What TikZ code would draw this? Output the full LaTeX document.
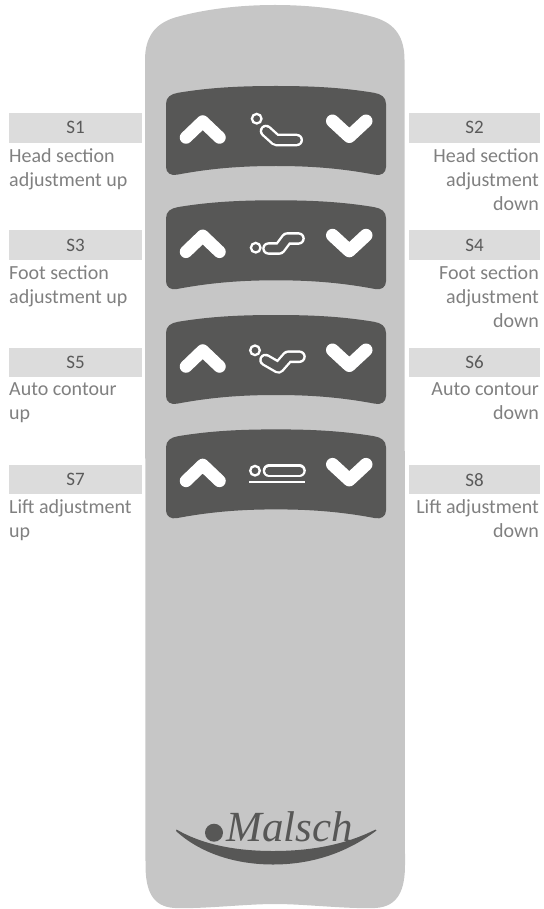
\documentclass[tikz,border=0pt]{standalone}
\usepackage{fontspec}
\setmainfont{Carlito}
\newfontfamily\logofont{Liberation Serif}
\definecolor{bodygrey}{HTML}{C6C6C6}
\definecolor{paneldark}{HTML}{575756}
\definecolor{barfill}{HTML}{DCDCDC}
\definecolor{bartext}{HTML}{5A5A5A}
\definecolor{desc}{HTML}{808080}
\tikzset{
  barbox/.style={fill=barfill,draw=none,minimum height=29.5pt,inner sep=0pt,text=bartext,font=\fontsize{19}{19}\selectfont},
  descleft/.style={anchor=north west,align=left,inner sep=0pt,text=desc,font=\fontsize{20}{24}\selectfont},
  descright/.style={anchor=north east,align=right,inner sep=0pt,text=desc,font=\fontsize{20}{24}\selectfont},
  chevron/.style={draw=white,line cap=round,line join=round,line width=12.5pt},
  ringicon/.style={draw=white,line width=2.3pt},
  capouter/.style={draw=white,line cap=round,line join=round,line width=12.6pt},
  capinner/.style={draw=paneldark,line cap=round,line join=round,line width=7.8pt},
}
\newcommand{\panelshape}[1]{%
  \begin{scope}[yshift=-#1pt]
    \fill[paneldark] (166,104) .. controls (166,97) and (171,94) .. (178,92.8)
      .. controls (210,87.5) and (240,86) .. (276,86)
      .. controls (312,86) and (342,87.5) .. (374,92.8)
      .. controls (381,94) and (386,97) .. (386,104)
      -- (386,167) .. controls (386,173) and (381,176) .. (375,174.7)
      .. controls (342,168.5) and (312,166) .. (276,166)
      .. controls (240,166) and (210,168.5) .. (177,174.7)
      .. controls (171,176) and (166,173) .. (166,167) -- cycle;
    \draw[chevron] (186,137.5) -- (202.7,121.5) -- (219.5,137.5);
    \draw[chevron,line width=13pt] (332.5,121) -- (349.3,136.5) -- (366,121);
  \end{scope}}
\newcommand{\capsule}[1]{\draw[capouter] #1; \draw[capinner] #1;}
\begin{document}
\begin{tikzpicture}[x=1pt,y=-1pt]
\useasboundingbox (0,0) rectangle (543,909);
% remote body
\fill[bodygrey] (145,60) .. controls (145,38) and (154,24) .. (175,17.5)
  .. controls (205,9) and (240,5) .. (275,5)
  .. controls (310,5) and (345,9) .. (375,17.5)
  .. controls (396,24) and (404.5,38) .. (404.5,60)
  -- (405,865) .. controls (405,890) and (398,907) .. (375,908)
  .. controls (345,909) and (305,904) .. (275,904)
  .. controls (245,904) and (205,909) .. (175,908)
  .. controls (152,907) and (145.5,890) .. (145.5,865) -- cycle;
% panels
\panelshape{0}
\panelshape{114.3}
\panelshape{229}
\panelshape{343.4}
% icon 1
\draw[ringicon] (256.7,118.7) circle (4.8);
\capsule{(266,131) -- (276,140) -- (296.7,140)}
% icon 2
\draw[ringicon] (255.7,247.7) circle (4.8);
\capsule{(268.5,248.5) -- (279.5,248.5) -- (287,238.5) -- (298.5,238.5)}
% icon 3
\draw[ringicon] (255,350.3) circle (4.8);
\capsule{(265.5,360) -- (278.5,367.5) -- (288,356.7) -- (299.5,356.7)}
% icon 4
\draw[ringicon] (255,470.7) circle (4.8);
\capsule{(269,470.7) -- (299.5,470.7)}
\draw[draw=white,line width=2.4pt] (249,481.7) -- (304.5,481.7);
% left labels
\node[barbox,minimum width=133pt] (s1) at (75.5,127.8) {S1};
\node[descleft] (t1) at (9,148) {Head section\\adjustment up};
\node[barbox,minimum width=133pt] (s3) at (75.5,245.2) {S3};
\node[descleft] (t3) at (9,265) {Foot section\\adjustment up};
\node[barbox,minimum width=133pt] (s5) at (75.5,362.5) {S5};
\node[descleft] (t5) at (9,382.5) {Auto contour\\up};
\node[barbox,minimum width=133pt] (s7) at (75.5,479.7) {S7};
\node[descleft] (t7) at (9,499.5) {Lift adjustment\\up};
% right labels
\node[barbox,minimum width=131pt] (s2) at (474.5,127.8) {S2};
\node[descright] (t2) at (539,148) {Head section\\adjustment\\down};
\node[barbox,minimum width=131pt] (s4) at (474.5,245.2) {S4};
\node[descright] (t4) at (539,265) {Foot section\\adjustment\\down};
\node[barbox,minimum width=131pt] (s6) at (474.5,362.5) {S6};
\node[descright] (t6) at (539,382.5) {Auto contour\\down};
\node[barbox,minimum width=131pt] (s8) at (474.5,479.7) {S8};
\node[descright] (t8) at (539,499.5) {Lift adjustment\\down};
% logo
\fill[paneldark] (214,832.7) circle (9);
\node[anchor=base west,inner sep=0pt,text=paneldark,font={\logofont\itshape\fontsize{43}{43}\selectfont}] (logo) at (226,841.7) {Malsch};
\fill[paneldark] (176.5,829.5) .. controls (205,846) and (240,851) .. (273,851)
  .. controls (310,851) and (345,845) .. (375.5,829.5)
  -- (376.5,830.5) .. controls (345,854) and (310,864.5) .. (273,864.5)
  .. controls (235,864.5) and (200,853) .. (176,831) -- cycle;
\end{tikzpicture}
\end{document}
